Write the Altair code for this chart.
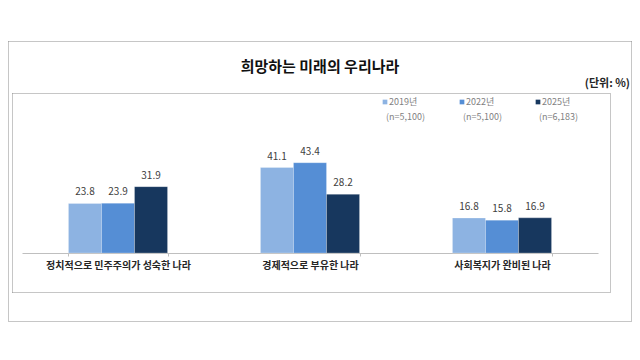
import altair as alt
import pandas as pd

categories = ["정치적으로 민주주의가 성숙한 나라", "경제적으로 부유한 나라", "사회복지가 완비된 나라"]
series = ["2019년", "2022년", "2025년"]
sample_n = ["(n=5,100)", "(n=5,100)", "(n=6,183)"]
values_2019 = [23.8, 41.1, 16.8]
values_2022 = [23.9, 43.4, 15.8]
values_2025 = [31.9, 28.2, 16.9]
colors = ["#8db3e2", "#558ed5", "#17375e"]

rows = []
for s, vals in zip(series, [values_2019, values_2022, values_2025]):
    for c, v in zip(categories, vals):
        rows.append({"category": c, "series": s, "value": v})
df = pd.DataFrame(rows)

FONT = "Noto Sans CJK KR"
one = alt.Data(values=[{"a": 1}])

x_enc = alt.X("category:N", sort=categories,
              scale=alt.Scale(paddingInner=0.484, paddingOuter=0.242),
              axis=alt.Axis(title=None, labelAngle=0, labelFont=FONT, labelFontSize=10,
                            labelColor="#262626", labelPadding=4, domainColor="#bfbfbf",
                            tickColor="#bfbfbf", tickSize=3, tickBand="extent",
                            labelFontWeight="bold", grid=False))
y_enc = alt.Y("value:Q", scale=alt.Scale(domain=[0, 50]), axis=None)
xo = alt.XOffset("series:N", sort=series, scale=alt.Scale(paddingInner=0, paddingOuter=0))

base = alt.Chart(df)
bars = base.mark_bar(stroke="#ffffff", strokeWidth=0.4, strokeOpacity=0.6).encode(
    x=x_enc, xOffset=xo, y=y_enc,
    color=alt.Color("series:N", scale=alt.Scale(domain=series, range=colors), legend=None),
)
labels = base.mark_text(baseline="bottom", dy=-6, font=FONT, fontSize=10, color="#404040").encode(
    x=x_enc, xOffset=xo, y=y_enc, text=alt.Text("value:Q", format=".1f"),
)


def dotted_box(x0, x1, y0, y1):
    layers = []
    for enc in (dict(x=alt.value(x0), x2=alt.value(x1), y=alt.value(y0)),
                dict(x=alt.value(x0), x2=alt.value(x1), y=alt.value(y1)),
                dict(x=alt.value(x0), y=alt.value(y0), y2=alt.value(y1)),
                dict(x=alt.value(x1), y=alt.value(y0), y2=alt.value(y1))):
        layers.append(alt.Chart(one).mark_rule(color="#8c8c8c", strokeWidth=1,
                                               strokeDash=[1, 1]).encode(**enc))
    return layers


outer = dotted_box(-13.5, 609.5, -107.5, 172.5)
inner = dotted_box(-9.5, 588.5, -55.5, 143.5)

title = alt.Chart(one).mark_text(font=FONT, fontSize=15, fontWeight="bold", color="#111111",
                                 align="center", baseline="middle").encode(
    x=alt.value(298), y=alt.value(-82), text=alt.value("희망하는 미래의 우리나라"))
unit = alt.Chart(one).mark_text(font=FONT, fontSize=11, fontWeight="bold", color="#262626",
                                align="right", baseline="middle").encode(
    x=alt.value(608), y=alt.value(-65), text=alt.value("(단위: %)"))

legend_layers = []
leg_x = [363, 440, 516]
for s, n, c, lx in zip(series, sample_n, colors, leg_x):
    legend_layers.append(alt.Chart(one).mark_square(size=22, color=c, opacity=1).encode(
        x=alt.value(lx), y=alt.value(-47)))
    legend_layers.append(alt.Chart(one).mark_text(font=FONT, fontSize=9, color="#7f7f7f",
                                                  align="left", baseline="middle").encode(
        x=alt.value(lx + 4), y=alt.value(-47), text=alt.value(s)))
    legend_layers.append(alt.Chart(one).mark_text(font=FONT, fontSize=9, color="#7f7f7f",
                                                  align="left", baseline="middle").encode(
        x=alt.value(lx + 1), y=alt.value(-32), text=alt.value(n)))

chart = alt.layer(*outer, *inner, title, unit, bars, labels, *legend_layers).properties(
    width=576, height=104,
    background="white",
    autosize=alt.AutoSizeParams(type="none"),
    padding={"left": 14, "right": 34, "top": 141, "bottom": 73},
).configure_view(stroke="transparent", strokeWidth=0)

chart.save("out.html", embed_options={"renderer": "svg", "actions": False})
